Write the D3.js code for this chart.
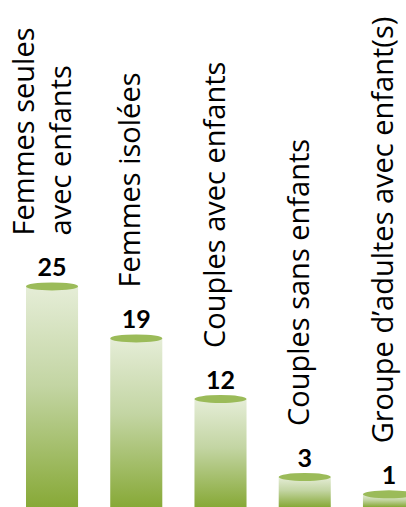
<!DOCTYPE html>
<html>
<head>
<meta charset="utf-8">
<script src='https://d3js.org/d3.v7.min.js'></script>
<style>
body{margin:0;background:#fff;}
</style>
</head>
<body>
<svg id="chart" width=406 height=507></svg>
<script type='text/javascript'>
// data
var categories=["Femmes seules avec enfants","Femmes isolées","Couples avec enfants","Couples sans enfants","Groupe d\u2019adultes avec enfant(s)"];
var labelLines=[["Femmes seules","avec enfants"],["Femmes isolées"],["Couples avec enfants"],["Couples sans enfants"],["Groupe d\u2019adultes avec enfant(s)"]];
var values=[25,19,12,3,1];

var W=406,H=507;
var svg=d3.select("#chart");

var xs=d3.scaleBand().domain(categories).range([26,415]).paddingInner(0.382).paddingOuter(0);
var ys=d3.scaleLinear().domain([0,25]).range([503,286.4]);

var grad=svg.append("defs").append("linearGradient").attr("id","barGrad")
.attr("x1","0").attr("y1","0").attr("x2","0").attr("y2","1");
grad.append("stop").attr("offset","0%").attr("stop-color","#e5edd7");
grad.append("stop").attr("offset","45%").attr("stop-color","#c3d5a3");
grad.append("stop").attr("offset","100%").attr("stop-color","#87a937");

var bars=svg.append("g").selectAll("g").data(categories).enter().append("g");

bars.append("rect")
.attr("x",function(d){return xs(d);})
.attr("y",function(d,i){return ys(values[i]);})
.attr("width",xs.bandwidth())
.attr("height",function(d,i){return H-ys(values[i]);})
.attr("fill","url(#barGrad)");

bars.append("ellipse")
.attr("cx",function(d){return xs(d)+xs.bandwidth()/2;})
.attr("cy",function(d,i){return ys(values[i]);})
.attr("rx",xs.bandwidth()/2)
.attr("ry",4)
.attr("fill","#9bbb59");

bars.append("text")
.attr("x",function(d){return xs(d)+xs.bandwidth()/2;})
.attr("y",function(d,i){return ys(values[i])-10;})
.attr("text-anchor","middle")
.style("font-family","Lato")
.style("font-weight","bold")
.style("font-size","25px")
.attr("fill","#000")
.text(function(d,i){return values[i];});

// rotated category labels above the values
bars.each(function(d,i){
  var cx=xs(d)+xs.bandwidth()/2;
  var yb=ys(values[i])-51;
  var lines=labelLines[i];
  var t=d3.select(this).append("text")
  .attr("transform","translate("+cx+","+yb+") rotate(-90)")
  .attr("text-anchor","start")
  .style("font-family","'Open Sans'")
  .style("font-size","29px")
  .attr("fill","#000");
  var first=lines.length>1?-18.5:4;
  lines.forEach(function(l,j){
    t.append("tspan").attr("x",0).attr("y",first+j*37).text(l);
  });
});
</script>
</body>
</html>
